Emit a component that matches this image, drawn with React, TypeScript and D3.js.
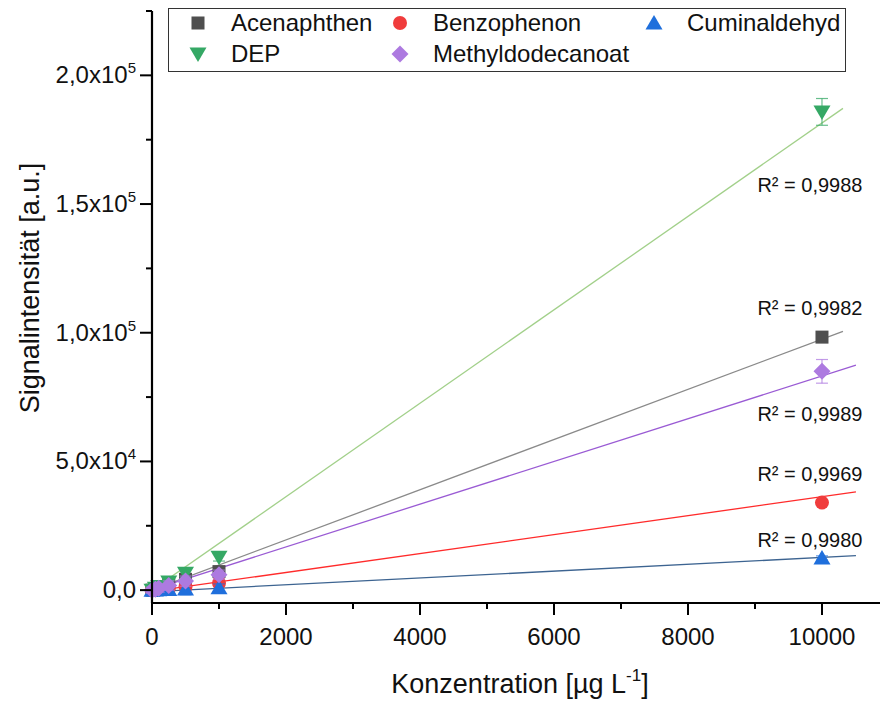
import React from "react";
import * as d3 from "d3";

const conc = [0, 50, 100, 250, 500, 1000, 10000];

const seriesNames = ["Acenaphthen", "Benzophenon", "Cuminaldehyd", "DEP", "Methyldodecanoat"];
const acenaphthen = [0, 400, 900, 2200, 4200, 7200, 98300];
const benzophenon = [0, 150, 300, 800, 1300, 2800, 34000];
const cuminaldehyd = [0, 50, 100, 250, 400, 900, 12500];
const dep = [0, 700, 1400, 3200, 6600, 12800, 185800];
const methyldodecanoat = [0, 300, 700, 1800, 3500, 6000, 85000];

const errAcenaphthen = [600, 800, 900, 1200, 1500, 1500, 1200];
const errBenzophenon = [600, 800, 900, 1200, 1500, 1500, 1000];
const errCuminaldehyd = [900, 1200, 1500, 2000, 2200, 1500, 800];
const errDep = [600, 800, 900, 1200, 1500, 1500, 5200];
const errMethyl = [1200, 1500, 1500, 1800, 2000, 1800, 4600];

// linear fits: slope, intercept, end concentration, R²
const fitSlope = [9.75, 3.68, 1.33, 18.15, 8.3];
const fitIntercept = [0, -500, -600, 0, 200];
const fitEnd = [10313, 10507, 10507, 10313, 10507];
const r2Labels = ["R² = 0,9982", "R² = 0,9969", "R² = 0,9980", "R² = 0,9988", "R² = 0,9989"];
const r2LabelY = [106800, 42300, 16700, 154600, 65600];

const xMajorTicks = [0, 2000, 4000, 6000, 8000, 10000];
const xMinorTicks = [1000, 3000, 5000, 7000, 9000];
const yMajorTicks = [0, 50000, 100000, 150000, 200000];
const yMinorTicks = [25000, 75000, 125000, 175000, 225000];
const yTickMantissa = ["0,0", "5,0x10", "1,0x10", "1,5x10", "2,0x10"];
const yTickExp = ["", "4", "5", "5", "5"];

const markerColors = ["#4f4f4f", "#f03c3c", "#1f6fdc", "#35a865", "#ad7ae0"];
const lineColors = ["#8a8a8a", "#ff2b2b", "#3d6491", "#a2d08a", "#9a5bd4"];
const shapes = ["square", "circle", "triangleUp", "triangleDown", "diamond"];

const values = [acenaphthen, benzophenon, cuminaldehyd, dep, methyldodecanoat];
const errors = [errAcenaphthen, errBenzophenon, errCuminaldehyd, errDep, errMethyl];

const FONT = "Liberation Sans, Arial, sans-serif";

function Marker({ shape, x, y, color }: { shape: string; x: number; y: number; color: string }) {
  if (shape === "square") return <rect x={x - 6.5} y={y - 6.5} width={13} height={13} fill={color} />;
  if (shape === "circle") return <circle cx={x} cy={y} r={7} fill={color} />;
  if (shape === "triangleUp")
    return <path d={`M${x},${y - 8} L${x + 8.5},${y + 6.5} L${x - 8.5},${y + 6.5} Z`} fill={color} />;
  if (shape === "triangleDown")
    return <path d={`M${x},${y + 8} L${x + 8.5},${y - 6.5} L${x - 8.5},${y - 6.5} Z`} fill={color} />;
  return <path d={`M${x},${y - 8.5} L${x + 8.5},${y} L${x},${y + 8.5} L${x - 8.5},${y} Z`} fill={color} />;
}

export default function App() {
  const W = 882;
  const H = 702;
  const x = d3.scaleLinear().domain([0, 10866]).range([152, 880]);
  const y = d3.scaleLinear().domain([-5000, 225000]).range([603, 11]);
  const x0 = 152;
  const y0 = 603;

  const line = d3.line<[number, number]>().x((d) => x(d[0])).y((d) => y(d[1]));

  return (
    <svg width={W} height={H} style={{ position: "absolute", left: 0, top: 0, background: "#fff" }} fontFamily={FONT}>
      <rect width={W} height={H} fill="#fff" />
      {/* fit lines */}
      {seriesNames.map((n, i) => {
        const pts: [number, number][] = [
          [-30, fitSlope[i] * -30 + fitIntercept[i]],
          [fitEnd[i], fitSlope[i] * fitEnd[i] + fitIntercept[i]],
        ];
        return <path key={n} d={line(pts) || ""} stroke={lineColors[i]} strokeWidth={1.3} fill="none" />;
      })}
      {/* error bars and markers */}
      {seriesNames.map((n, i) => (
        <g key={n}>
          {conc.map((c, j) => {
            const cx = x(c);
            const e = errors[i][j];
            const yt = y(values[i][j] + e);
            const yb = y(values[i][j] - e);
            return (
              <g key={j} stroke={markerColors[i]} strokeOpacity={0.75} strokeWidth={1.2}>
                <line x1={cx} x2={cx} y1={yt} y2={yb} />
                <line x1={cx - 6} x2={cx + 6} y1={yt} y2={yt} />
                <line x1={cx - 6} x2={cx + 6} y1={yb} y2={yb} />
              </g>
            );
          })}
          {conc.map((c, j) => (
            <Marker key={j} shape={shapes[i]} x={x(c)} y={y(values[i][j])} color={markerColors[i]} />
          ))}
        </g>
      ))}
      {/* R² labels */}
      {r2Labels.map((t, i) => (
        <text key={t} x={x(9820)} y={y(r2LabelY[i])} textAnchor="middle" fontSize={20} fill="#111">
          {t}
        </text>
      ))}
      {/* axes */}
      <line x1={x0} x2={x0} y1={11} y2={y0} stroke="#000" strokeWidth={2.2} />
      <line x1={x0 - 1} x2={880} y1={y0} y2={y0} stroke="#000" strokeWidth={2.2} />
      {xMajorTicks.map((t) => (
        <g key={t}>
          <line x1={x(t)} x2={x(t)} y1={y0} y2={y0 + 12} stroke="#000" strokeWidth={2} />
          <text x={x(t)} y={y0 + 42} textAnchor="middle" fontSize={24} fill="#111">
            {t}
          </text>
        </g>
      ))}
      {xMinorTicks.map((t) => (
        <line key={t} x1={x(t)} x2={x(t)} y1={y0} y2={y0 + 6} stroke="#000" strokeWidth={2} />
      ))}
      {yMajorTicks.map((t, i) => (
        <g key={t}>
          <line x1={x0 - 12} x2={x0} y1={y(t)} y2={y(t)} stroke="#000" strokeWidth={2} />
          <text x={136} y={y(t) + 8} textAnchor="end" fontSize={24} fill="#111">
            <tspan>{yTickMantissa[i]}</tspan>
            {yTickExp[i] && (
              <tspan dy={-10} fontSize={15}>
                {yTickExp[i]}
              </tspan>
            )}
          </text>
        </g>
      ))}
      {yMinorTicks.map((t) => (
        <line key={t} x1={x0 - 6} x2={x0} y1={y(t)} y2={y(t)} stroke="#000" strokeWidth={2} />
      ))}
      {/* axis titles */}
      <text x={520} y={693} textAnchor="middle" fontSize={27} fill="#111">
        <tspan>Konzentration [µg L</tspan>
        <tspan dy={-12} fontSize={17}>-1</tspan>
        <tspan dy={12}>]</tspan>
      </text>
      <text transform={`translate(39,288) rotate(-90)`} textAnchor="middle" fontSize={27} fill="#111">
        Signalintensität [a.u.]
      </text>
      {/* legend */}
      <rect x={168.5} y={8.5} width={677} height={63} fill="#fff" stroke="#333" strokeWidth={1} />
      {seriesNames.map((n, i) => {
        const col = i % 3;
        const row = Math.floor(i / 3);
        const mx = [198, 400, 654][col];
        const my = [23, 54][row];
        return (
          <g key={n}>
            <Marker shape={shapes[i]} x={mx} y={my} color={markerColors[i]} />
            <text x={mx + 33} y={my + 8} fontSize={24} fill="#111">
              {n}
            </text>
          </g>
        );
      })}
    </svg>
  );
}
